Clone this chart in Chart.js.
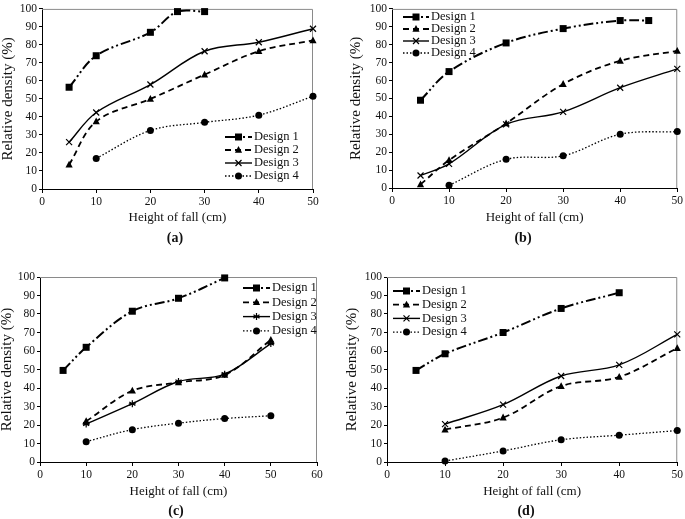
<!DOCTYPE html>
<html>
<head>
<meta charset="utf-8">
<script src="https://cdn.jsdelivr.net/npm/chart.js@4.4.0/dist/chart.umd.min.js"></script>
<style>
  body { margin: 0; background: #fff; }
  #wrap { position: relative; width: 685px; height: 519px; overflow: hidden; }
  canvas { position: absolute; }
  .lbl { position: absolute; font: bold 14px "Liberation Serif", serif; color: #111; transform: translate(-50%, -50%); }
</style>
</head>
<body>
<div id="wrap">
  <canvas id="chA" width="340" height="250" style="left:0;top:0"></canvas>
  <canvas id="chB" width="345" height="250" style="left:340px;top:0"></canvas>
  <canvas id="chC" width="340" height="269" style="left:0;top:250px"></canvas>
  <canvas id="chD" width="345" height="269" style="left:340px;top:250px"></canvas>
  <div class="lbl" style="left:175px;top:238px">(a)</div>
  <div class="lbl" style="left:523px;top:238px">(b)</div>
  <div class="lbl" style="left:176px;top:511px">(c)</div>
  <div class="lbl" style="left:526px;top:511px">(d)</div>
</div>
<script>
// series labels
var designs = ['Design 1', 'Design 2', 'Design 3', 'Design 4'];

// height of fall (cm)
var x5to50 = [5, 10, 20, 30, 40, 50];
var x10to50 = [10, 20, 30, 40, 50];

// (a)
var a1x = [5, 10, 20, 25, 30], a1y = [56.5, 74, 87, 98.5, 98.5];
var a2y = [13.5, 37.5, 50, 63.5, 76.5, 82.5];
var a3y = [26, 42.5, 58, 76.5, 81.5, 89];
var a4y = [17, 32.5, 37, 41, 51.5];

// (b)
var b1x = [5, 10, 20, 30, 40, 45], b1y = [49, 65, 81, 89, 93.5, 93.5];
var b2y = [2, 15.5, 36, 58, 71, 76.5];
var b3y = [7, 13.5, 35.5, 42.5, 56, 66.5];
var b4y = [1.5, 16, 18, 30, 31.5];

// (c)
var c1x = [5, 10, 20, 30, 40], c1y = [49.5, 62, 81.5, 88.5, 99.5];
var c2y = [22, 38.5, 43, 47, 66];
var c3y = [20.5, 31.5, 43.5, 47.5, 64];
var c4y = [11, 17.5, 21, 23.5, 25];

// (d)
var d1x = [5, 10, 20, 30, 40], d1y = [49.5, 58.5, 70, 83, 91.5];
var d2y = [17.5, 24, 41, 46, 61.5];
var d3y = [20.5, 31, 46.5, 52.5, 69];
var d4y = [0.5, 6, 12, 14.5, 17];

var yTicks = [0, 10, 20, 30, 40, 50, 60, 70, 80, 90, 100];

function pts(xs, ys) {
    return xs.map(function(x, i) { return {x: x, y: ys[i]}; });
}

// line look for each design
var looks = [
    {dash: [10, 3, 2, 3, 2, 3], width: 2, marker: 'rect', r: 3.5},
    {dash: [6, 4], width: 1.8, marker: 'triangle', r: 4},
    {dash: [], width: 1.4, marker: 'crossRot', r: 3},
    {dash: [1.5, 2], width: 1.3, marker: 'circle', r: 3.5}
];

function drawMarker(ctx, style, r, x, y) {
    ctx.save();
    ctx.fillStyle = '#000';
    ctx.strokeStyle = '#000';
    ctx.lineWidth = 1.2;
    ctx.setLineDash([]);
    ctx.beginPath();
    if (style === 'rect') {
        ctx.rect(x - r, y - r, 2 * r, 2 * r);
        ctx.fill();
    } else if (style === 'triangle') {
        ctx.moveTo(x, y - r);
        ctx.lineTo(x + r * 0.9, y + r * 0.7);
        ctx.lineTo(x - r * 0.9, y + r * 0.7);
        ctx.closePath();
        ctx.fill();
    } else if (style === 'circle') {
        ctx.arc(x, y, r, 0, Math.PI * 2);
        ctx.fill();
    } else if (style === 'star') {
        for (var k = 0; k < 3; k++) {
            var a = Math.PI / 2 + k * Math.PI / 3;
            ctx.moveTo(x + Math.cos(a) * r, y + Math.sin(a) * r);
            ctx.lineTo(x - Math.cos(a) * r, y - Math.sin(a) * r);
        }
        ctx.moveTo(x - r, y); ctx.lineTo(x + r, y);
        ctx.stroke();
    } else {
        ctx.moveTo(x - r, y - r); ctx.lineTo(x + r, y + r);
        ctx.moveTo(x + r, y - r); ctx.lineTo(x - r, y + r);
        ctx.stroke();
    }
    ctx.restore();
}

// gray frame round the plot area
var framePlugin = {
    id: 'frame',
    beforeDatasetsDraw: function(chart) {
        var a = chart.chartArea, ctx = chart.ctx;
        ctx.save();
        ctx.strokeStyle = '#8a8a8a';
        ctx.lineWidth = 1;
        ctx.beginPath();
        ctx.moveTo(a.left, a.top + 0.5);
        ctx.lineTo(a.right - 0.5, a.top + 0.5);
        ctx.lineTo(a.right - 0.5, a.bottom);
        ctx.stroke();
        ctx.restore();
    }
};

// markers drawn on top of the lines
var markerPlugin = {
    id: 'markers',
    afterDatasetsDraw: function(chart) {
        chart.data.datasets.forEach(function(ds, i) {
            var meta = chart.getDatasetMeta(i);
            meta.data.forEach(function(p) {
                drawMarker(chart.ctx, ds.marker, ds.markerR, p.x, p.y);
            });
        });
    }
};

// small legend: sample line with marker and label
var legendPlugin = {
    id: 'miniLegend',
    afterDraw: function(chart, args, opts) {
        var ctx = chart.ctx;
        chart.data.datasets.forEach(function(ds, i) {
            var y = opts.y + i * opts.dy;
            ctx.save();
            ctx.strokeStyle = '#000';
            ctx.lineWidth = ds.borderWidth;
            ctx.setLineDash(ds.borderDash);
            ctx.beginPath();
            ctx.moveTo(opts.x, y);
            ctx.lineTo(opts.x + opts.len, y);
            ctx.stroke();
            ctx.restore();
            drawMarker(ctx, ds.marker, ds.markerR, opts.x + opts.len / 2, y);
            ctx.save();
            ctx.fillStyle = '#111';
            ctx.font = '12.5px "Liberation Serif", serif';
            ctx.textBaseline = 'middle';
            ctx.fillText(ds.label, opts.x + opts.len + 2, y);
            ctx.restore();
        });
    }
};

function makeChart(id, series, cfg) {
    var datasets = series.map(function(s, i) {
        var lk = looks[i];
        return {
            label: designs[i],
            data: pts(s[0], s[1]),
            borderColor: '#000',
            backgroundColor: '#000',
            borderWidth: lk.width,
            borderDash: lk.dash,
            pointRadius: 0,
            tension: 0.35,
            clip: false,
            marker: (i === 2 && cfg.star) ? 'star' : lk.marker,
            markerR: (i === 2 && cfg.star) ? 3.5 : lk.r
        };
    });
    return new Chart(document.getElementById(id), {
        type: 'line',
        data: { datasets: datasets },
        options: {
            responsive: false,
            animation: false,
            layout: { padding: cfg.pad },
            plugins: {
                legend: { display: false },
                tooltip: { enabled: false },
                miniLegend: cfg.legend
            },
            scales: {
                x: {
                    type: 'linear',
                    min: 0,
                    max: cfg.xMax,
                    afterBuildTicks: function(s) {
                        s.ticks = [];
                        for (var v = 0; v <= cfg.xMax; v += 10) s.ticks.push({value: v});
                    },
                    afterFit: function(s) { s.height = cfg.xH; },
                    grid: { display: true, drawOnChartArea: false, tickLength: 4, color: '#000' },
                    border: { color: '#000', width: 1 },
                    ticks: { color: '#111', padding: 2, maxRotation: 0, font: { family: '"Liberation Serif", serif', size: 11.5 } },
                    title: { display: true, text: 'Height of fall (cm)', color: '#111', padding: 0,
                             font: { family: '"Liberation Serif", serif', size: 13, lineHeight: 1.2 } }
                },
                y: {
                    min: 0,
                    max: 100,
                    afterBuildTicks: function(s) {
                        s.ticks = yTicks.map(function(v) { return {value: v}; });
                    },
                    afterFit: function(s) { s.width = cfg.yW; },
                    grid: { display: true, drawOnChartArea: false, tickLength: 3, color: '#000' },
                    border: { color: '#000', width: 1 },
                    ticks: { color: '#111', padding: 2, font: { family: '"Liberation Serif", serif', size: 11.5 } },
                    title: { display: true, text: 'Relative density (%)', color: '#111', padding: 0,
                             font: { family: '"Liberation Serif", serif', size: 15, lineHeight: 1.0 } }
                }
            }
        },
        plugins: [framePlugin, markerPlugin, legendPlugin]
    });
}

makeChart('chA', [[a1x, a1y], [x5to50, a2y], [x5to50, a3y], [x10to50, a4y]], {
    xMax: 50, xH: 36, yW: 41,
    pad: {left: 1, top: 7, right: 27, bottom: 25},
    legend: {x: 225, y: 137, dy: 13, len: 27}
});
makeChart('chB', [[b1x, b1y], [x5to50, b2y], [x5to50, b3y], [x10to50, b4y]], {
    xMax: 50, xH: 37, yW: 43,
    pad: {left: 9, top: 7, right: 6, bottom: 25},
    legend: {x: 63, y: 17, dy: 12, len: 26}
});
makeChart('chC', [[c1x, c1y], [x10to50, c2y], [x10to50, c3y], [x10to50, c4y]], {
    xMax: 60, xH: 37, yW: 40, star: true,
    pad: {left: 0, top: 27, right: 23, bottom: 20},
    legend: {x: 243, y: 38, dy: 14.3, len: 27}
});
makeChart('chD', [[d1x, d1y], [x10to50, d2y], [x10to50, d3y], [x10to50, d4y]], {
    xMax: 50, xH: 37, yW: 42,
    pad: {left: 5, top: 27, right: 6, bottom: 20},
    legend: {x: 53, y: 41, dy: 13.7, len: 27}
});
</script>
</body>
</html>
